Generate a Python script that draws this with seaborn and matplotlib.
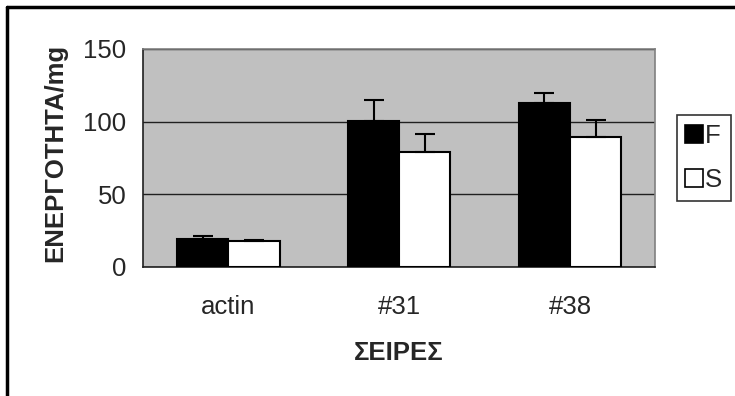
""" Bar chart of activity per mg for the actin, #31 and #38 lines (F vs S). """

import numpy as np
import pandas as pd
from matplotlib import pyplot as plt
from matplotlib.lines import Line2D
import seaborn as sns

##########
#  Data  #
##########
lines = ['actin', '#31', '#38']
groups = ['F', 'S']
f_values = [19.3, 100.7, 113.1]
s_values = [17.9, 79.4, 89.2]
f_err = [2.3, 14.5, 6.4]
s_err = [0.9, 12.4, 12.2]

data = pd.DataFrame({
    'line': lines * 2,
    'group': ['F'] * 3 + ['S'] * 3,
    'value': f_values + s_values,
    'err': f_err + s_err,
})

#########
# Style #
#########
sns.set_theme(style='white')
plt.rcParams['font.family'] = ['Liberation Sans', 'DejaVu Sans']
FS = 18.5

fig = plt.figure(figsize=(7.35, 3.96), dpi=100)
ax = fig.add_axes([0.1946, 0.3258, 0.697, 0.5505])
ax.set_facecolor('#C0C0C0')

sns.barplot(
    ax=ax,
    data=data,
    x='line',
    y='value',
    hue='group',
    order=lines,
    hue_order=groups,
    palette={'F': 'black', 'S': 'white'},
    edgecolor='black',
    linewidth=1.5,
    width=0.6,
    errorbar=None,
    legend=False,
    zorder=3,
)

# Upper-only error bars, one per bar
for container, grp in zip(ax.containers, groups):
    sub = data[data['group'] == grp].set_index('line').loc[lines]
    xs = [p.get_x() + p.get_width() / 2 for p in container.patches]
    ax.errorbar(
        xs, sub['value'],
        yerr=[np.zeros(len(xs)), sub['err']],
        fmt='none', ecolor='black', elinewidth=1.5,
        capsize=7, capthick=1.5, zorder=4,
    )

ax.set_ylim(0, 150)
ax.set_yticks([0, 50, 100, 150])
ax.set_xlim(-0.5, 2.5)
ax.yaxis.grid(True, color='#202020', linewidth=1.0, zorder=1)
ax.set_axisbelow(True)

for side in ['top', 'right']:
    ax.spines[side].set_color('#808080')
    ax.spines[side].set_linewidth(1.2)
for side in ['left', 'bottom']:
    ax.spines[side].set_color('#202020')
    ax.spines[side].set_linewidth(1.2)

ax.tick_params(axis='y', which='major', direction='out', length=7,
               width=1, color='black', labelsize=FS, pad=5)
ax.tick_params(axis='x', length=0, labelsize=FS, pad=20)
ax.set_ylabel('ΕΝΕΡΓΟΤΗΤΑ/mg', fontsize=FS, fontweight='bold')
ax.yaxis.set_label_coords(-0.148, 0.523)
ax.set_xlabel('ΣΕΙΡΕΣ', fontsize=FS, fontweight='bold', labelpad=16)

# Legend
handles = [
    Line2D([], [], marker='s', linestyle='none', markersize=13,
           markerfacecolor=c, markeredgecolor='black', markeredgewidth=1.2)
    for c in ['black', 'white']
]
leg = fig.legend(
    handles, groups,
    loc='upper left', bbox_to_anchor=(0.921, 0.71),
    fontsize=FS, frameon=True, fancybox=False,
    handlelength=0.6, handletextpad=0.15, labelspacing=0.8,
    borderpad=0.35, borderaxespad=0,
)
leg.get_frame().set_edgecolor('black')
leg.get_frame().set_linewidth(1.2)

# Outer chart border (left and top visible)
fig.add_artist(Line2D([0.0095, 0.0095], [0, 0.982], transform=fig.transFigure,
                      color='black', linewidth=2.5))
fig.add_artist(Line2D([0.0095, 1], [0.982, 0.982], transform=fig.transFigure,
                      color='black', linewidth=2.5))

fig.savefig('out.png', dpi=100)
